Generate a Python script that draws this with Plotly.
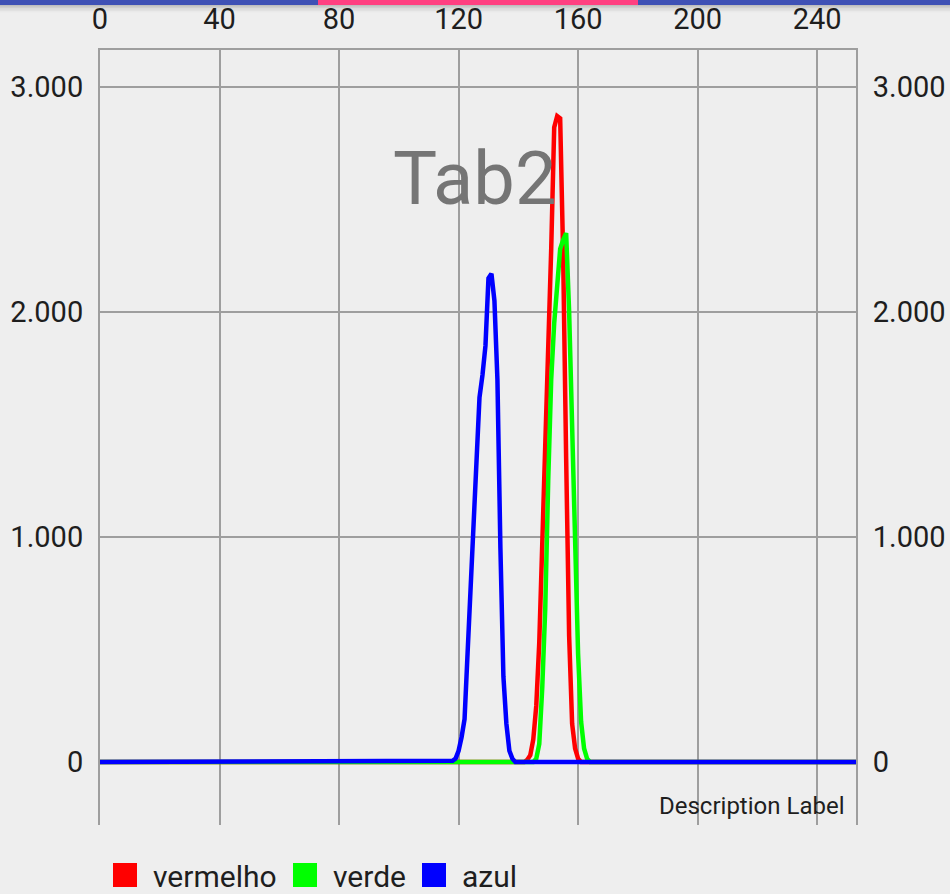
import plotly.graph_objects as go

# ---------------- data ----------------
bins = list(range(256))
series_names = ["vermelho", "verde", "azul"]
series_colors = ["#FF0000", "#00FF00", "#0000FF"]

# non-zero histogram counts (all other bins are 0)
red_start = 143
red_vals = [10, 30, 100, 250, 530, 950, 1430, 1880, 2280, 2820, 2870, 2860, 2250, 1350, 560, 170, 60, 15]
green_start = 146
green_vals = [15, 80, 330, 680, 1250, 1700, 1950, 2140, 2280, 2320, 2350, 2000, 1500, 950, 480, 180, 60, 15]
blue_start = 118
blue_vals = [5, 15, 50, 110, 190, 480, 760, 1100, 1380, 1620, 1720, 1850, 2150, 2170, 2050, 1700, 950, 380, 170, 50, 15]

x_tick_vals = [0, 40, 80, 120, 160, 200, 240]
y_tick_vals = [0, 1000, 2000, 3000]
y_tick_text = ["0", "1.000", "2.000", "3.000"]

center_text = "Tab2"
description_text = "Description Label"


def full(start, vals):
    arr = [0] * len(bins)
    for i, v in enumerate(vals):
        arr[start + i] = v
    return arr


series_values = [full(red_start, red_vals), full(green_start, green_vals), full(blue_start, blue_vals)]

# ---------------- layout helpers ----------------
W, H = 950, 894
L, R, T, B = 100, 94, 50, 69
PW, PH = W - L - R, H - T - B


def px(x):
    return (x - L) / PW


def py(y):
    return (H - B - y) / PH


FONT = "Roboto"
TXT = "#1E1E1E"
GRID = "#9E9E9E"
BG = "#EEEEEE"

fig = go.Figure()
for name, col, vals in zip(series_names, series_colors, series_values):
    fig.add_trace(go.Scatter(x=bins, y=vals, mode="lines", name=name,
                             line=dict(color=col, width=4.5), showlegend=False,
                             cliponaxis=True))
# invisible trace on the right axis to activate it
fig.add_trace(go.Scatter(x=[0], y=[0], yaxis="y2", mode="markers",
                         marker=dict(opacity=0), showlegend=False, hoverinfo="skip"))

yr = [-280, 3164]
axis_common = dict(zeroline=False, ticks="", automargin=False,
                   showline=True, linecolor=GRID, linewidth=2,
                   tickfont=dict(size=29, family=FONT, color=TXT))
fig.update_layout(
    template="none",
    width=W, height=H, autosize=False,
    margin=dict(l=L, r=R, t=T, b=B, pad=0),
    paper_bgcolor=BG, plot_bgcolor=BG,
    font=dict(family=FONT, color=TXT),
    xaxis=dict(range=[0, 253], side="top", tickvals=x_tick_vals, ticklabelstandoff=7,
               showgrid=True, gridcolor=GRID, gridwidth=2, **axis_common),
    yaxis=dict(range=yr, tickvals=y_tick_vals, ticktext=y_tick_text, ticklabelstandoff=9,
               showgrid=True, gridcolor=GRID, gridwidth=2, **axis_common),
    yaxis2=dict(range=yr, tickvals=y_tick_vals, ticktext=y_tick_text, ticklabelstandoff=9,
                overlaying="y", side="right", showgrid=False, **axis_common),
    showlegend=False,
)

shapes = []
annotations = []
# top app bar strip with tab indicator and shadow
shapes.append(dict(type="rect", xref="paper", yref="paper", x0=px(0), x1=px(W),
                   y0=py(5), y1=py(0), fillcolor="#3F51B5", line=dict(width=0), layer="above"))
shapes.append(dict(type="rect", xref="paper", yref="paper", x0=px(318), x1=px(638),
                   y0=py(5), y1=py(0), fillcolor="#FF4081", line=dict(width=0), layer="above"))
for i, op in enumerate([0.20, 0.13, 0.08, 0.05, 0.02]):
    shapes.append(dict(type="rect", xref="paper", yref="paper", x0=px(0), x1=px(W),
                       y0=py(5 + (i + 1) * 1.5), y1=py(5 + i * 1.5),
                       fillcolor=f"rgba(0,0,0,{op})", line=dict(width=0), layer="above"))

# center text
annotations.append(dict(text=center_text, xref="paper", yref="paper", x=px(474), y=py(178),
                        xanchor="center", yanchor="middle", showarrow=False,
                        font=dict(size=74, family=FONT, color="#757575")))
# description label
annotations.append(dict(text=description_text, xref="paper", yref="paper", x=px(846), y=py(806),
                        xanchor="right", yanchor="middle", showarrow=False,
                        font=dict(size=24, family=FONT, color=TXT)))

# legend (squares + names)
leg_sq_x = [113, 293, 422]
leg_tx_x = [151, 331, 460]
for name, col, sx, tx in zip(series_names, series_colors, leg_sq_x, leg_tx_x):
    shapes.append(dict(type="rect", xref="paper", yref="paper", x0=px(sx), x1=px(sx + 24),
                       y0=py(887), y1=py(863), fillcolor=col, line=dict(width=0)))
    annotations.append(dict(text=name, xref="paper", yref="paper", x=px(tx), y=py(876),
                            xanchor="left", yanchor="middle", showarrow=False,
                            font=dict(size=30, family=FONT, color=TXT)))

fig.update_layout(shapes=shapes, annotations=annotations)
fig.write_html(
    "out.html",
    config={"displayModeBar": False},
    post_script="document.body.style.margin='0';document.body.style.padding='0';"
                "document.documentElement.style.overflow='hidden';"
                "document.body.style.background='#EEEEEE';",
)
